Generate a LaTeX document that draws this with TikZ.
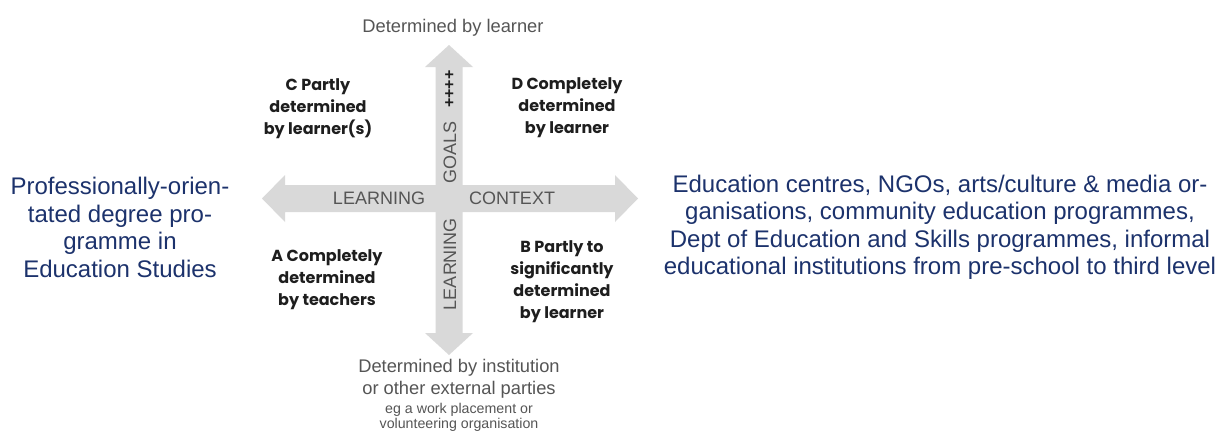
\documentclass[tikz,border=0pt]{standalone}
\usepackage{fontspec}
\setmainfont{Liberation Sans}
\newfontfamily\qfont{Poppins}
\definecolor{navy}{RGB}{28,50,108}
\definecolor{arrowgray}{RGB}{217,217,217}
\definecolor{txtgray}{RGB}{85,85,85}
\definecolor{qblack}{RGB}{30,30,30}
\begin{document}
\begin{tikzpicture}[x=1pt,y=-1pt,
  bluetext/.style={text=navy, font=\fontsize{24}{27.5}\selectfont, align=center, inner sep=0pt},
  quad/.style={text=qblack, font=\qfont\bfseries\fontsize{16}{22}\selectfont, align=center, inner sep=0pt},
  graytext/.style={text=txtgray, font=\fontsize{18.3}{22}\selectfont, align=center, inner sep=0pt},
  smallgray/.style={text=txtgray, font=\fontsize{14.2}{15}\selectfont, align=center, inner sep=0pt},
  axislabel/.style={text=txtgray, font=\fontsize{18}{20}\selectfont, inner sep=0pt},
  pluslabel/.style={text=qblack, font=\bfseries\fontsize{16}{18}\selectfont, inner sep=0pt},
  arrowshape/.style={fill=arrowgray, draw=none}
  ]
\useasboundingbox[fill=white] (0,0) rectangle (1221,432);

% horizontal double arrow
\fill[arrowshape] (262,198.5) -- (285,175) -- (285,185) -- (615,185) -- (615,175) -- (638,198.5)
  -- (615,222) -- (615,212) -- (285,212) -- (285,222) -- cycle;
% vertical double arrow
\fill[arrowshape] (449,45) -- (473,67) -- (462.5,67) -- (462.5,333) -- (473,333) -- (449,355)
  -- (425,333) -- (435.5,333) -- (435.5,67) -- (425,67) -- cycle;

% axis labels
\node[axislabel] (learnH) at (379,198.5) {LEARNING};
\node[axislabel] (context) at (512,198.5) {CONTEXT};
\node[axislabel, rotate=90] (goals) at (450,152.5) {GOALS};
\node[pluslabel, rotate=90] (plus) at (450,89) {++++};
\node[axislabel, rotate=90] (learnV) at (450,264) {LEARNING};

% end labels
\node[graytext] (top) at (453,28) {Determined by learner};
\node[graytext] (bottom) at (459,379) {Determined by institution\\or other external parties};
\node[smallgray] (bottomsmall) at (459,417.5) {eg a work placement or\\volunteering organisation};

% quadrant labels
\node[quad] (C) at (318,108.5) {C Partly\\determined\\by learner(s)};
\node[quad] (D) at (567,108) {D Completely\\determined\\by learner};
\node[quad] (A) at (327,280) {A Completely\\determined\\by teachers};
\node[quad] (B) at (562,281.5) {B Partly to\\significantly\\determined\\by learner};

% side texts
\node[bluetext] (left) at (120,227.5) {Professionally-orien-\\tated degree pro-\\gramme in\\Education Studies};
\node[bluetext] (right) at (940,227.5) {Education centres, NGOs, arts/culture \& media or-\\ganisations, community education programmes,\\Dept of Education and Skills programmes, informal\\educational institutions from pre-school to third level};
\end{tikzpicture}
\end{document}
